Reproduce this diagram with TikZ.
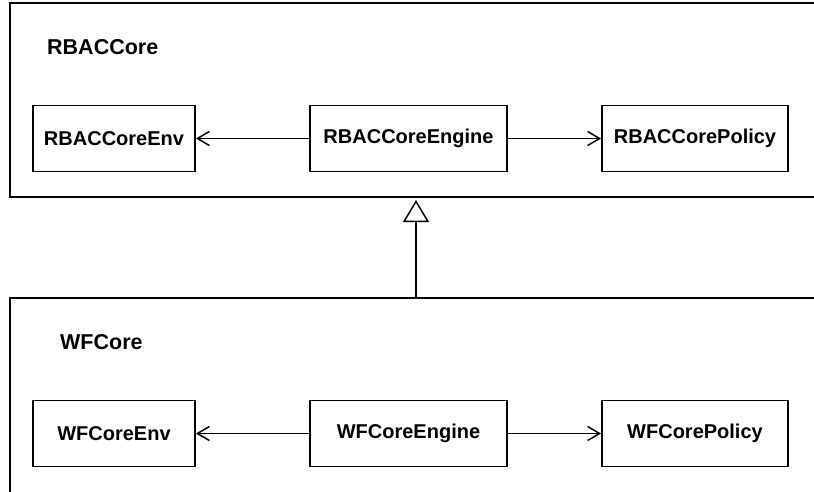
\documentclass[tikz,border=0pt]{standalone}
\usepackage{fontspec}
\setmainfont{Liberation Sans}
\usetikzlibrary{arrows.meta}
\tikzset{
  classbox/.style={draw, line width=1.8pt, minimum width=#1, minimum height=66pt,
                   inner sep=0pt, font=\fontsize{20}{23}\selectfont\bfseries},
  pkgname/.style={anchor=west, inner sep=0pt, font=\fontsize{21.5}{24}\selectfont\bfseries},
  frame/.style={line width=1.8pt},
  dep/.style={line width=1.6pt, -{Straight Barb[length=12pt,width=14pt,line width=1.5pt]}},
  inherit/.style={line width=1.8pt, -{Triangle[open,length=22pt,width=26pt,line width=1.5pt,fill=white]}}
}
\begin{document}
\begin{tikzpicture}[x=1pt,y=-1pt]
  \useasboundingbox (0,0) rectangle (814,491);
  \clip (0,0) rectangle (814,491);
  % package frames (open to the right / below)
  \draw[frame] (830,3) -- (10,3) -- (10,197) -- (830,197);
  \draw[frame] (830,298) -- (10,298) -- (10,500);
  \coordinate (tip) at (416,200);
  \coordinate (lowtop) at (416,298);

  % RBACCore package
  \node[pkgname] (rbac) at (47,47) {RBACCore};
  \node[classbox=162pt] (renv) at (114,138.5) {RBACCoreEnv};
  \node[classbox=197pt] (reng) at (408.5,138.5) {RBACCoreEngine};
  \node[classbox=186pt] (rpol) at (695,138.5) {RBACCorePolicy};
  \draw[dep] (reng) -- (renv);
  \draw[dep] (reng) -- (rpol);

  % WFCore package
  \node[pkgname] (wf) at (60,342) {WFCore};
  \node[classbox=162pt] (wenv) at (114,433.5) {WFCoreEnv};
  \node[classbox=197pt] (weng) at (408.5,433.5) {WFCoreEngine};
  \node[classbox=186pt] (wpol) at (695,433.5) {WFCorePolicy};
  \draw[dep] (weng) -- (wenv);
  \draw[dep] (weng) -- (wpol);

  % generalisation WFCore -> RBACCore
  \draw[inherit] (lowtop) -- (tip);
\end{tikzpicture}
\end{document}
